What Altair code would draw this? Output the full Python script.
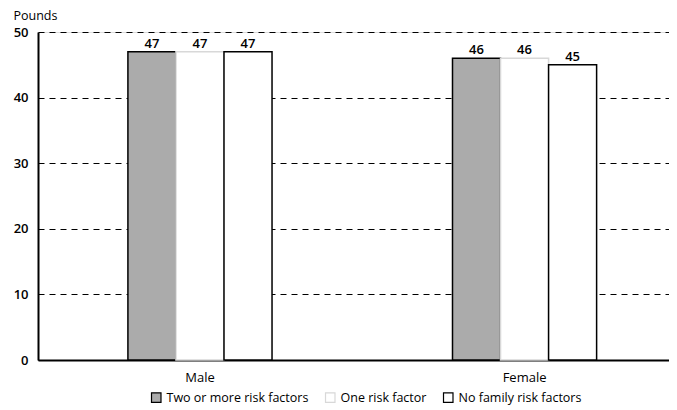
import altair as alt
import pandas as pd

sexes = ["Male", "Female"]
risks = ["Two or more risk factors", "One risk factor", "No family risk factors"]
male_vals = [47, 47, 47]
female_vals = [46, 46, 45]

rows = []
for s, vals in zip(sexes, [male_vals, female_vals]):
    for r, v in zip(risks, vals):
        rows.append({"sex": s, "risk": r, "value": v})
df = pd.DataFrame(rows)

FONT = "Open Sans"

x = alt.X("sex:N", sort=sexes, title=None,
          scale=alt.Scale(paddingInner=0.556, paddingOuter=0.25, align=0.554),
          axis=alt.Axis(labelAngle=0, labelFontSize=13, labelColor="black", labelFont=FONT,
                        labelPadding=11, ticks=False, domainColor="black", domainWidth=2,
                        grid=False))
xo = alt.XOffset("risk:N", sort=risks, scale=alt.Scale(paddingInner=0, paddingOuter=0))
y = alt.Y("value:Q", scale=alt.Scale(domain=[0, 50]),
          axis=alt.Axis(values=[0, 10, 20, 30, 40, 50], title="Pounds", titleAngle=0,
                        titleAlign="left", titleBaseline="alphabetic", titleX=-25, titleY=-13,
                        titleFontSize=12.5, titleFontWeight="normal", titleFont=FONT, titleColor="black",
                        labelFontSize=13, labelFont=FONT, labelColor="black", labelFontWeight=600,
                        labelPadding=10, ticks=False, domainColor="black", domainWidth=2,
                        grid=True, gridColor="black", gridDash=[6, 5], gridWidth=1))

bars = alt.Chart(df).mark_bar(strokeWidth=1.5).encode(
    x=x, xOffset=xo, y=y,
    fill=alt.Fill("risk:N", sort=risks,
                  scale=alt.Scale(domain=risks, range=["#ababab", "white", "white"]),
                  legend=alt.Legend(title=None, orient="none", legendX=112, legendY=359,
                                    direction="horizontal", symbolType="square", symbolSize=90,
                                    labelFontSize=12.5, labelFont=FONT, labelColor="black",
                                    columnPadding=14, symbolStrokeWidth=1.2)),
    stroke=alt.Stroke("risk:N", sort=risks,
                      scale=alt.Scale(domain=risks, range=["black", "#d8d8d8", "black"]),
                      legend=None),
)

labels = alt.Chart(df).mark_text(dy=-8, fontSize=13, font=FONT, fontWeight=600, color="black").encode(
    x=x, xOffset=xo, y=y, text=alt.Text("value:Q")
)

chart = (bars + labels).properties(
    width=631, height=328,
    autosize=alt.AutoSizeParams(type="none"),
    padding={"left": 30, "top": 24, "right": 0, "bottom": 46}
).configure_view(stroke=None).configure(background="white")

chart.save("out.html", embed_options={"renderer": "svg", "actions": False})
